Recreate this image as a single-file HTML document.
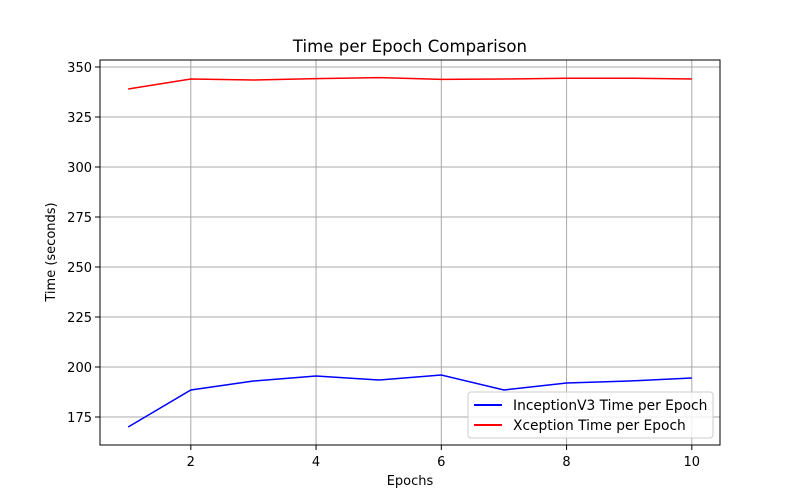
<!DOCTYPE html>
<html><head><meta charset="utf-8"><style>
body{margin:0;background:#fff}
svg{display:block;font-family:"DejaVu Sans","Liberation Sans",sans-serif}
</style></head><body>
<svg id="chart" width="800" height="500">
<rect width="800" height="500" fill="#fff"/>
<text x="410" y="52" text-anchor="middle" font-size="16.6">Time per Epoch Comparison</text>
<g id="grid"></g><g id="ticks"></g><g id="lines"></g>
<rect x="100" y="60" width="620" height="385" fill="none" stroke="#000" stroke-width="1"/>
<text x="410" y="485" text-anchor="middle" font-size="13">Epochs</text>
<text transform="translate(55,252) rotate(-90)" text-anchor="middle" font-size="13">Time (seconds)</text>
<g>
<rect x="468" y="392" width="245" height="46" rx="3" fill="#fff" fill-opacity="0.8" stroke="#ccc"/>
<line x1="474" y1="405" x2="502" y2="405" stroke="blue" stroke-width="2"/>
<text x="513" y="410" font-size="13.8">InceptionV3 Time per Epoch</text>
<line x1="474" y1="425" x2="502" y2="425" stroke="red" stroke-width="2"/>
<text x="513" y="430" font-size="13.8">Xception Time per Epoch</text>
</g>
</svg>
<script>
const epochs=[1,2,3,4,5,6,7,8,9,10];
const inception=[170,188.5,193,195.5,193.5,196,188.5,192,193,194.5];
const xception=[339,344,343.5,344.2,344.7,343.8,344,344.4,344.4,344];
const xTicks=[2,4,6,8,10];
const yTicks=[175,200,225,250,275,300,325,350];
const NS="http://www.w3.org/2000/svg";
const xs=v=>100+(v-0.55)/(10.45-0.55)*620;
const ys=v=>67+(350-v)*2;
const grid=document.getElementById('grid'),ticks=document.getElementById('ticks'),lines=document.getElementById('lines');
function mk(tag,attrs,parent){const e=document.createElementNS(NS,tag);for(const k in attrs)e.setAttribute(k,attrs[k]);parent.appendChild(e);return e;}
xTicks.forEach(t=>{
 const g=mk('line',{x1:xs(t),x2:xs(t),y1:60,y2:445,stroke:'#a8a8a8','stroke-width':1},grid);
 
 
 mk('line',{x1:xs(t),x2:xs(t),y1:445,y2:450,stroke:'#000'},ticks);
 const l=mk('text',{x:xs(t),y:466,'text-anchor':'middle','font-size':13},ticks);l.textContent=t;
 
 
});
yTicks.forEach(t=>{
 const g=mk('line',{x1:100,x2:720,y1:ys(t),y2:ys(t),stroke:'#a8a8a8','stroke-width':1},grid);
 
 
 mk('line',{x1:95,x2:100,y1:ys(t),y2:ys(t),stroke:'#000'},ticks);
 const l=mk('text',{x:92,y:ys(t)+5,'text-anchor':'end','font-size':13},ticks);l.textContent=t;
 
 
});
function series(vals,color,name){
 const p=mk('polyline',{points:epochs.map((e,i)=>xs(e)+','+ys(vals[i])).join(' '),fill:'none',stroke:color,'stroke-width':1.5},lines);
 
 
}
series(inception,'blue','inceptionv3-line');
series(xception,'red','xception-line');
</script>
</body></html>
